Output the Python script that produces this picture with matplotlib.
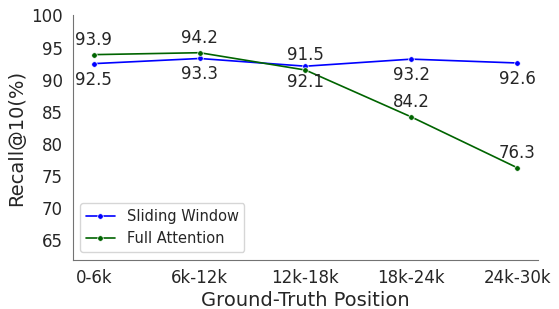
import matplotlib
matplotlib.use("Agg")
import matplotlib.pyplot as plt
import seaborn as sns

positions = ["0-6k", "6k-12k", "12k-18k", "18k-24k", "24k-30k"]
sliding = [92.5, 93.3, 92.1, 93.2, 92.6]
full = [93.9, 94.2, 91.5, 84.2, 76.3]

sns.set_style("white")
plt.rcParams['font.family'] = ['DejaVu Sans']

fig, ax = plt.subplots(figsize=(5.59, 3.09), dpi=100)
x = list(range(len(positions)))
ax.plot(x, sliding, color="blue", marker="o", markersize=4, lw=1.2,
        markeredgecolor="white", markeredgewidth=0.5, label="Sliding Window")
ax.plot(x, full, color="darkgreen", marker="o", markersize=4, lw=1.2,
        markeredgecolor="white", markeredgewidth=0.5, label="Full Attention")

# value labels: sliding below, full above
for i in x:
    ax.annotate(f"{sliding[i]}", (i, sliding[i]), xytext=(0, -5), textcoords="offset points",
                ha="center", va="top", fontsize=12, color="#262626")
    ax.annotate(f"{full[i]}", (i, full[i]), xytext=(0, 4), textcoords="offset points",
                ha="center", va="bottom", fontsize=12, color="#262626")

ax.set_xticks(x)
ax.set_xticklabels(positions)
ax.set_ylim(62, 100)
ax.set_yticks([65, 70, 75, 80, 85, 90, 95, 100])
ax.tick_params(labelsize=12, colors="#262626")
ax.set_xlabel("Ground-Truth Position", fontsize=14, color="#262626", labelpad=3)
ax.set_ylabel("Recall@10(%)", fontsize=14, color="#262626")
for s in ["top", "right"]:
    ax.spines[s].set_visible(False)
for s in ["left", "bottom"]:
    ax.spines[s].set_color("0.45")
ax.legend(loc="lower left", fontsize=10.5)

fig.subplots_adjust(left=0.13, right=0.963, top=0.95, bottom=0.16)
fig.savefig("out.png", dpi=100)
